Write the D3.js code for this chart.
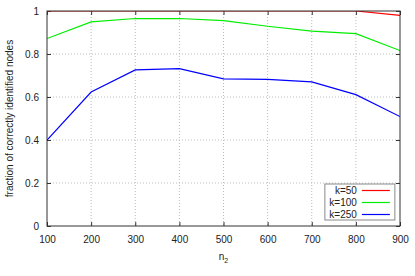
<!DOCTYPE html>
<html>
  <head>
    <script src="https://d3js.org/d3.v7.min.js"></script>
    <style>
      body { margin: 0; background: #fff; }
      text { font-family: "Liberation Sans", Arial, sans-serif; font-size: 10px; fill: #222; }
    </style>
  </head>
  <body>
    <div id="chart"></div>
    <script>
      // data
      const n2 = [100, 200, 300, 400, 500, 600, 700, 800, 900];
      const k50 = [1, 1, 1, 1, 1, 1, 1, 1, 0.98];
      const k100 = [0.872, 0.949, 0.965, 0.965, 0.955, 0.929, 0.906, 0.895, 0.816];
      const k250 = [0.399, 0.623, 0.726, 0.732, 0.684, 0.682, 0.67, 0.611, 0.509];
      const seriesNames = ["k=50", "k=100", "k=250"];
      const seriesColors = ["#ff0000", "#00ee00", "#0000ff"];
      const xTicks = [100, 200, 300, 400, 500, 600, 700, 800, 900];
      const yTicks = [0, 0.2, 0.4, 0.6, 0.8, 1];

      const series = [k50, k100, k250];

      const W = 415, H = 276;
      const margin = { top: 11, right: 15, bottom: 50, left: 47 };
      const width = W - margin.left - margin.right;
      const height = H - margin.top - margin.bottom;

      const svg = d3.select("#chart").append("svg")
        .attr("width", W).attr("height", H);
      const g = svg.append("g")
        .attr("transform", `translate(${margin.left},${margin.top})`);

      const x = d3.scaleLinear().domain([100, 900]).range([0, width]);
      const y = d3.scaleLinear().domain([0, 1]).range([height, 0]);

      svg.append("defs").append("clipPath").attr("id", "plot")
        .append("rect").attr("width", width).attr("height", height);

      // grid
      g.append("g").selectAll("line").data(xTicks.slice(1, -1)).enter().append("line")
        .attr("x1", d => x(d)).attr("x2", d => x(d))
        .attr("y1", 0).attr("y2", height)
        .attr("stroke", "#bbb").attr("stroke-dasharray", "1,2");
      g.append("g").selectAll("line").data(yTicks.slice(1, -1)).enter().append("line")
        .attr("x1", 0).attr("x2", width)
        .attr("y1", d => y(d)).attr("y2", d => y(d))
        .attr("stroke", "#bbb").attr("stroke-dasharray", "1,2");

      // axes, ticks pointing inward like gnuplot
      const axStyle = sel => {
        sel.select(".domain").remove();
        sel.selectAll(".tick line").attr("stroke", "#333");
        sel.selectAll(".tick text").attr("fill", "#222").style("font-size", "10px");
      };
      g.append("g").attr("transform", `translate(0,${height})`)
        .call(d3.axisBottom(x).tickValues(xTicks).tickSize(-4).tickPadding(10))
        .call(axStyle);
      g.append("g")
        .call(d3.axisTop(x).tickValues(xTicks).tickSize(-4).tickFormat(""))
        .call(axStyle);
      g.append("g")
        .call(d3.axisLeft(y).tickValues(yTicks).tickSize(-4).tickPadding(8).tickFormat(d3.format("~g")))
        .call(axStyle);
      g.append("g").attr("transform", `translate(${width},0)`)
        .call(d3.axisRight(y).tickValues(yTicks).tickSize(-4).tickFormat(""))
        .call(axStyle);

      // lines, clipped to the plot box
      const line = d3.line().x((d, i) => x(n2[i])).y(d => y(d));
      const lines = g.append("g").attr("clip-path", "url(#plot)");
      series.forEach((s, i) => {
        lines.append("path").datum(s)
          .attr("fill", "none")
          .attr("stroke", seriesColors[i])
          .attr("stroke-width", 1.2)
          .attr("d", line);
      });

      // frame
      g.append("rect").attr("width", width).attr("height", height)
        .attr("fill", "none").attr("stroke", "#333").attr("stroke-width", 1);

      // legend
      const lg = g.append("g").attr("transform", `translate(${x(800) - 31},${y(0) - 42})`);
      lg.append("rect").attr("width", 70).attr("height", 36)
        .attr("fill", "#fff").attr("stroke", "#888");
      seriesNames.forEach((name, i) => {
        const yy = 6.5 + i * 12;
        lg.append("text").attr("x", 32).attr("y", yy).attr("dy", "0.35em")
          .attr("text-anchor", "end").text(name);
        lg.append("line").attr("x1", 37).attr("x2", 65)
          .attr("y1", yy).attr("y2", yy)
          .attr("stroke", seriesColors[i]).attr("stroke-width", 1.2);
      });

      // axis labels
      const xl = svg.append("text")
        .attr("x", margin.left + x(500)).attr("y", 260)
        .attr("text-anchor", "middle");
      xl.append("tspan").text("n");
      xl.append("tspan").attr("dy", 3).style("font-size", "7px").text("2");

      svg.append("text")
        .attr("transform", `translate(13,${margin.top + height / 2}) rotate(-90)`)
        .attr("text-anchor", "middle")
        .text("fraction of correctly identified nodes");
    </script>
  </body>
</html>
